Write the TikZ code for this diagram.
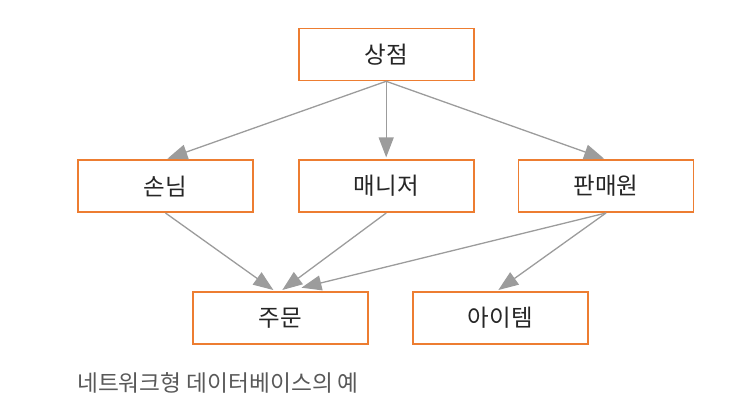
\documentclass[tikz,border=0pt]{standalone}
\usepackage{fontspec}
\setmainfont{Noto Sans CJK KR}
\usetikzlibrary{arrows.meta,calc}
\definecolor{boxorange}{HTML}{ED7D31}
\definecolor{arrowgray}{HTML}{9C9C9C}
\definecolor{textdark}{HTML}{262626}
\definecolor{captiongray}{HTML}{595959}
\tikzset{
  entity/.style={draw=boxorange,line width=1.6pt,fill=white,rectangle,
    minimum width=175pt,minimum height=52pt,inner sep=0pt,
    text=textdark,font=\fontsize{23.5}{26}\selectfont},
  link/.style={draw=arrowgray,line width=1.3pt,shorten >=2pt,
    arrows={-Triangle[length=20pt,width=15pt]}}
}
\begin{document}
\begin{tikzpicture}[x=1pt,y=-1pt]
\useasboundingbox (0,0) rectangle (751,419);
\node[entity] (store) at (386.2,54.5) {상점};
\node[entity] (cust) at (165.5,186.2) {손님};
\node[entity] (mgr) at (386.2,186.2) {매니저};
\node[entity] (sales) at (606,186.2) {판매원};
\node[entity] (order) at (280.5,318) {주문};
\node[entity] (item) at (500.2,318) {아이템};
\coordinate (o1) at ($(order.north)+(-5.5,0)$);
\coordinate (o2) at ($(order.north)+(0.2,0)$);
\coordinate (o3) at ($(order.north)+(19,-3)$);
\coordinate (i1) at ($(item.north)+(-3.5,0)$);
\draw[link] (store.south) -- (cust.north);
\draw[link] (store.south) -- (mgr.north);
\draw[link] (store.south) -- (sales.north);
\draw[link] (cust.south) -- (o1);
\draw[link] (mgr.south) -- (o2);
\draw[link] (sales.south) -- (o3);
\draw[link] (sales.south) -- (i1);
\node[anchor=west,inner sep=0pt,text=captiongray,font=\fontsize{22.7}{25}\selectfont] (caption) at (77,383) {네트워크형 데이터베이스의 예};
\end{tikzpicture}
\end{document}
